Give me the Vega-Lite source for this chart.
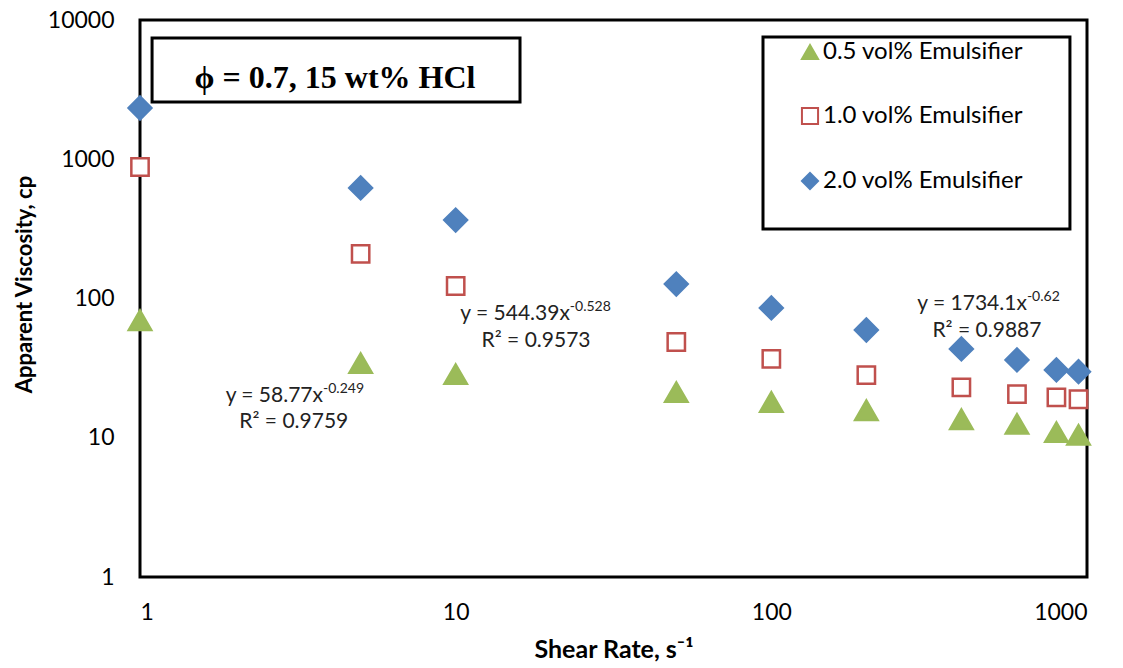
{
  "$schema": "https://vega.github.io/schema/vega-lite/v6.json",
  "width": 947,
  "height": 557,
  "autosize": "none",
  "padding": {"left": 140, "top": 20, "right": 36, "bottom": 91},
  "background": "white",
  "config": {
    "view": {"stroke": "black", "strokeWidth": 3},
    "font": "Lato",
    "legend": {
      "orient": "none", "legendX": 658, "legendY": 20, "title": null, "padding": 0,
      "labelFontSize": 24, "labelFont": "Lato", "labelColor": "black", "labelOffset": 1,
      "symbolSize": 260, "symbolStrokeWidth": 2, "rowPadding": 39, "labelLimit": 400
    }
  },
  "datasets": {
    "pts": [
      {"series": "0.5 vol% Emulsifier", "shear": 1, "visc": 70},
      {"series": "0.5 vol% Emulsifier", "shear": 5, "visc": 34.4},
      {"series": "0.5 vol% Emulsifier", "shear": 10, "visc": 28.7},
      {"series": "0.5 vol% Emulsifier", "shear": 50, "visc": 21.3},
      {"series": "0.5 vol% Emulsifier", "shear": 100, "visc": 18.1},
      {"series": "0.5 vol% Emulsifier", "shear": 200, "visc": 15.8},
      {"series": "0.5 vol% Emulsifier", "shear": 400, "visc": 13.6},
      {"series": "0.5 vol% Emulsifier", "shear": 600, "visc": 12.6},
      {"series": "0.5 vol% Emulsifier", "shear": 800, "visc": 11.0},
      {"series": "0.5 vol% Emulsifier", "shear": 940, "visc": 10.5},
      {"series": "1.0 vol% Emulsifier", "shear": 1, "visc": 880},
      {"series": "1.0 vol% Emulsifier", "shear": 5, "visc": 209},
      {"series": "1.0 vol% Emulsifier", "shear": 10, "visc": 123},
      {"series": "1.0 vol% Emulsifier", "shear": 50, "visc": 48.7},
      {"series": "1.0 vol% Emulsifier", "shear": 100, "visc": 36.8},
      {"series": "1.0 vol% Emulsifier", "shear": 200, "visc": 28.2},
      {"series": "1.0 vol% Emulsifier", "shear": 400, "visc": 23.0},
      {"series": "1.0 vol% Emulsifier", "shear": 600, "visc": 20.6},
      {"series": "1.0 vol% Emulsifier", "shear": 800, "visc": 19.5},
      {"series": "1.0 vol% Emulsifier", "shear": 940, "visc": 18.9},
      {"series": "2.0 vol% Emulsifier", "shear": 1, "visc": 2334},
      {"series": "2.0 vol% Emulsifier", "shear": 5, "visc": 622},
      {"series": "2.0 vol% Emulsifier", "shear": 10, "visc": 366},
      {"series": "2.0 vol% Emulsifier", "shear": 50, "visc": 127},
      {"series": "2.0 vol% Emulsifier", "shear": 100, "visc": 85.5},
      {"series": "2.0 vol% Emulsifier", "shear": 200, "visc": 59.4},
      {"series": "2.0 vol% Emulsifier", "shear": 400, "visc": 43.4},
      {"series": "2.0 vol% Emulsifier", "shear": 600, "visc": 36.2},
      {"series": "2.0 vol% Emulsifier", "shear": 800, "visc": 30.7},
      {"series": "2.0 vol% Emulsifier", "shear": 940, "visc": 29.8}
    ],
    "eqs": [
      {"x": 3.80, "y": 18.06, "main": "y = 58.77x", "sup": "-0.249"},
      {"x": 23.0, "y": 70.1, "main": "y = 544.39x", "sup": "-0.528"},
      {"x": 645, "y": 82.7, "main": "y = 1734.1x", "sup": "-0.62"}
    ],
    "r2": [
      {"x": 3.07, "y": 11.75, "text": "R² = 0.9759"},
      {"x": 17.97, "y": 44.8, "text": "R² = 0.9573"},
      {"x": 482, "y": 52.9, "text": "R² = 0.9887"}
    ],
    "boxes": [
      {"name": "title", "x1": 1.092, "x2": 15.99, "y1": 2577, "y2": 7427},
      {"name": "legend", "x1": 94.1, "x2": 883, "y1": 315.6, "y2": 7551}
    ],
    "titletext": [
      {"x": 4.147, "y": 3249, "text": "ϕ = 0.7, 15 wt% HCl"}
    ]
  },
  "layer": [
    {
      "data": {"name": "boxes"},
      "mark": {"type": "rect", "fill": "white", "stroke": "black", "strokeWidth": 3},
      "encoding": {
        "x": {"field": "x1", "type": "quantitative", "scale": {"type": "log", "domain": [1, 1000]}},
        "x2": {"field": "x2"},
        "y": {"field": "y1", "type": "quantitative", "scale": {"type": "log", "domain": [1, 10000]}},
        "y2": {"field": "y2"}
      }
    },
    {
      "data": {"name": "titletext"},
      "mark": {"type": "text", "font": "Liberation Serif", "fontWeight": "bold", "fontSize": 32, "align": "center", "baseline": "alphabetic", "color": "black"},
      "encoding": {
        "x": {"field": "x", "type": "quantitative"},
        "y": {"field": "y", "type": "quantitative"},
        "text": {"field": "text"}
      }
    },
    {
      "data": {"name": "pts"},
      "transform": [{"filter": "datum.series === '0.5 vol% Emulsifier'"}],
      "mark": {"type": "point", "filled": false, "strokeWidth": 2, "opacity": 1, "size": 540},
      "encoding": {
        "x": {
          "field": "shear", "type": "quantitative",
          "scale": {"type": "log", "domain": [1, 1000]},
          "axis": {
            "values": [1, 10, 100, 1000], "format": "d", "ticks": false, "domain": false, "grid": false,
            "labelFontSize": 23, "labelColor": "black", "labelPadding": 24, "labelFont": "Lato",
            "title": "Shear Rate, s⁻¹", "titleFontSize": 25, "titleFontWeight": "bold", "titleColor": "black", "titlePadding": 13, "titleFont": "Lato"
          }
        },
        "y": {
          "field": "visc", "type": "quantitative",
          "scale": {"type": "log", "domain": [1, 10000]},
          "axis": {
            "values": [1, 10, 100, 1000, 10000], "format": "d", "ticks": false, "domain": false, "grid": false,
            "labelFontSize": 23, "labelColor": "black", "labelPadding": 26, "labelFont": "Lato",
            "title": "Apparent Viscosity, cp", "titleFontSize": 22, "titleFontWeight": "bold", "titleColor": "black", "titlePadding": 11, "titleFont": "Lato",
            "titleY": 264
          }
        },
        "shape": {
          "field": "series", "type": "nominal",
          "scale": {"domain": ["0.5 vol% Emulsifier", "1.0 vol% Emulsifier", "2.0 vol% Emulsifier"], "range": ["triangle-up", "square", "diamond"]}
        },
        "fill": {
          "field": "series", "type": "nominal",
          "scale": {"domain": ["0.5 vol% Emulsifier", "1.0 vol% Emulsifier", "2.0 vol% Emulsifier"], "range": ["#9BBB59", "white", "#4F81BD"]}
        },
        "stroke": {
          "field": "series", "type": "nominal",
          "scale": {"domain": ["0.5 vol% Emulsifier", "1.0 vol% Emulsifier", "2.0 vol% Emulsifier"], "range": ["#9BBB59", "#C0504D", "#4F81BD"]}
        }
      }
    },
    {
      "data": {"name": "pts"},
      "transform": [{"filter": "datum.series === '1.0 vol% Emulsifier'"}],
      "mark": {"type": "point", "filled": false, "strokeWidth": 2.5, "opacity": 1, "size": 300},
      "encoding": {
        "x": {"field": "shear", "type": "quantitative"},
        "y": {"field": "visc", "type": "quantitative"},
        "shape": {"field": "series", "type": "nominal"},
        "fill": {"field": "series", "type": "nominal"},
        "stroke": {"field": "series", "type": "nominal"}
      }
    },
    {
      "data": {"name": "pts"},
      "transform": [{"filter": "datum.series === '2.0 vol% Emulsifier'"}],
      "mark": {"type": "point", "filled": false, "strokeWidth": 2, "opacity": 1, "size": 550},
      "encoding": {
        "x": {"field": "shear", "type": "quantitative"},
        "y": {"field": "visc", "type": "quantitative"},
        "shape": {"field": "series", "type": "nominal"},
        "fill": {"field": "series", "type": "nominal"},
        "stroke": {"field": "series", "type": "nominal"}
      }
    },
    {
      "data": {"name": "eqs"},
      "mark": {"type": "text", "fontSize": 21, "align": "right", "baseline": "alphabetic", "color": "#222222"},
      "encoding": {
        "x": {"field": "x", "type": "quantitative"},
        "y": {"field": "y", "type": "quantitative"},
        "text": {"field": "main"}
      }
    },
    {
      "data": {"name": "eqs"},
      "mark": {"type": "text", "fontSize": 14, "align": "left", "baseline": "alphabetic", "dy": -9, "color": "#222222"},
      "encoding": {
        "x": {"field": "x", "type": "quantitative"},
        "y": {"field": "y", "type": "quantitative"},
        "text": {"field": "sup"}
      }
    },
    {
      "data": {"name": "r2"},
      "mark": {"type": "text", "fontSize": 21, "align": "center", "baseline": "alphabetic", "color": "#222222"},
      "encoding": {
        "x": {"field": "x", "type": "quantitative"},
        "y": {"field": "y", "type": "quantitative"},
        "text": {"field": "text"}
      }
    }
  ]
}
